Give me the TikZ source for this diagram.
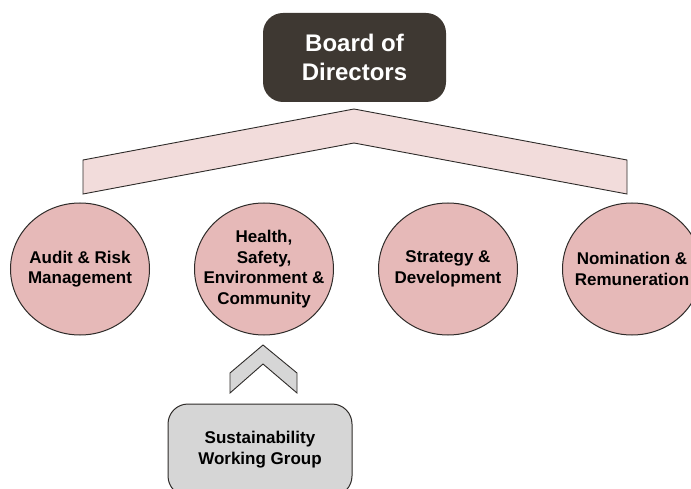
\documentclass[tikz,border=0pt]{standalone}
\usepackage{fontspec}
\setmainfont{Liberation Sans}
\usetikzlibrary{shapes.geometric, positioning}
\definecolor{cboard}{HTML}{3E3832}
\definecolor{cband}{HTML}{F2DCDB}
\definecolor{ccomm}{HTML}{E6B9B8}
\definecolor{cgroup}{HTML}{D6D6D6}
\definecolor{cedge}{HTML}{2E2B29}
\tikzset{
  every picture/.style={line width=1pt},
  board/.style={fill=cboard, text=white, rounded corners=20pt, align=center, minimum width=183pt, minimum height=89pt, font=\fontsize{24}{29}\selectfont\bfseries},
  committee/.style={ellipse, draw=cedge, fill=ccomm, inner sep=0pt, minimum width=139pt, minimum height=132pt},
  ctext/.style={align=center, font=\fontsize{17}{20.5}\selectfont\bfseries},
  group/.style={draw=cedge, fill=cgroup, rounded corners=20pt, align=center, minimum width=184pt, minimum height=92pt, font=\fontsize{17}{21}\selectfont\bfseries},
  chevron/.style={draw=cedge, line width=0.9pt, fill=#1},
}

\begin{document}
\begin{tikzpicture}[x=1pt, y=-1pt]
  \useasboundingbox (0,0) rectangle (691,489);
  \node[board] (board) at (354.5,57.5) {Board of\\Directors};
  % band under the board
  \draw[chevron=cband] (83,160) -- (354,109) -- (627,160) -- (627,194) -- (354,143) -- (83,194) -- cycle;
  \node[committee, label={[ctext]center:{Audit \& Risk\\Management}}] (audit) at (80,269) {};
  \node[committee, right=44pt of audit, label={[ctext]center:{Health,\\Safety,\\Environment \&\\Community}}] (hsec) {};
  \node[committee, right=44pt of hsec, label={[ctext]center:{Strategy \&\\Development}}] (strat) {};
  \node[committee, right=44pt of strat, label={[ctext]center:{Nomination \&\\Remuneration}}] (nomin) {};
  % small chevron up to the HSEC committee
  \draw[chevron=cgroup] (230,373) -- (263,345) -- (297,373) -- (297,393) -- (263,364) -- (230,393) -- cycle;
  \node[group] (swg) at (260,450) {Sustainability\\Working Group};
\end{tikzpicture}
\end{document}
